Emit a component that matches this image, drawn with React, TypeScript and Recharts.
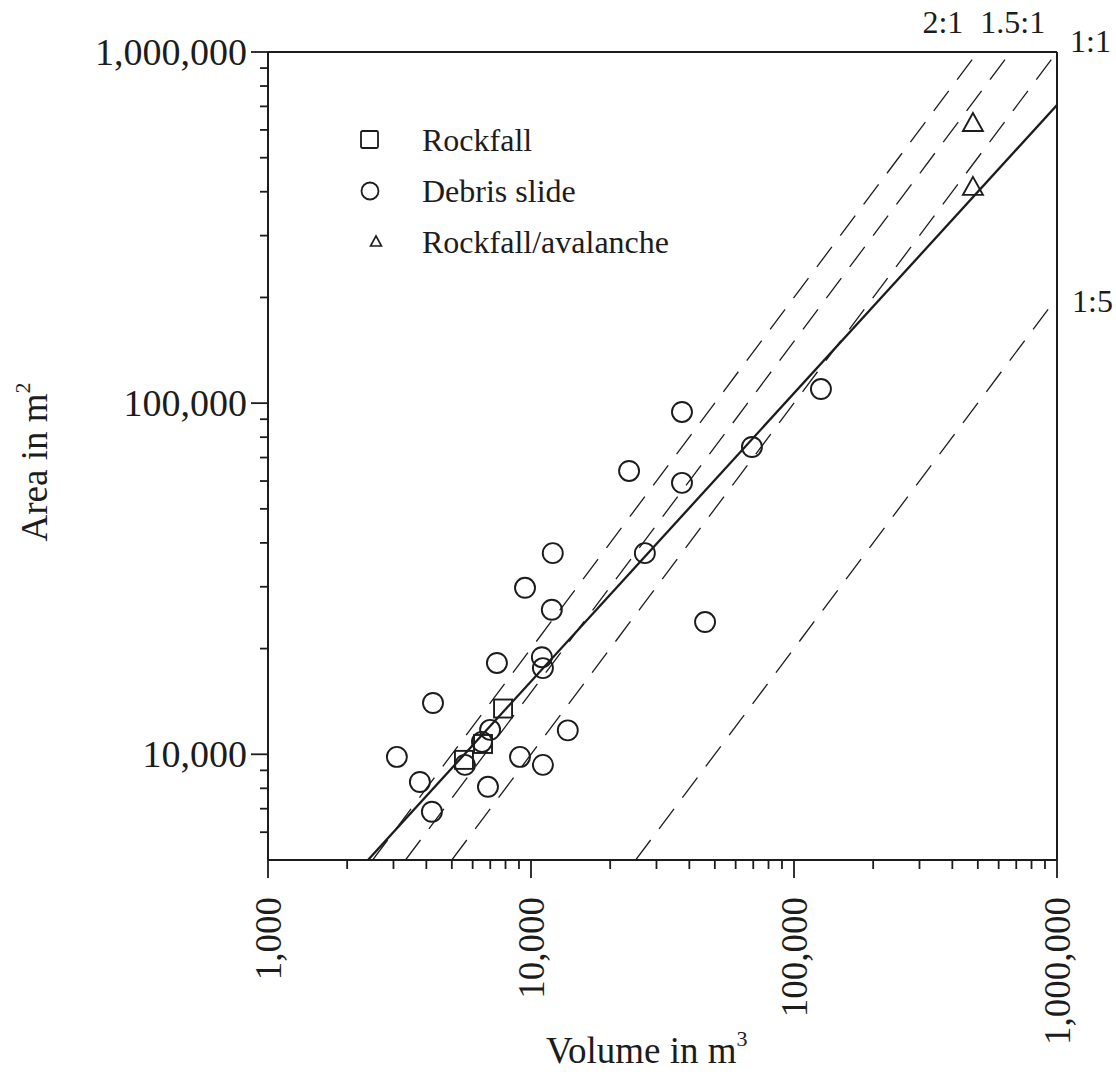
import React from 'react';
import {
  ScatterChart, Scatter, XAxis, YAxis, ReferenceLine, ReferenceDot, Legend,
} from 'recharts';

// ---------- data ----------
const rockfall = [
  { v: 7830, a: 13500 },
  { v: 6570, a: 10700 },
  { v: 5560, a: 9640 },
];

const debrisSlide = [
  { v: 3090, a: 9830 },
  { v: 3780, a: 8340 },
  { v: 4200, a: 6860 },
  { v: 4240, a: 14000 },
  { v: 5610, a: 9330 },
  { v: 6510, a: 10850 },
  { v: 6990, a: 11740 },
  { v: 6860, a: 8080 },
  { v: 7420, a: 18200 },
  { v: 9080, a: 9830 },
  { v: 11100, a: 9330 },
  { v: 11000, a: 18900 },
  { v: 11100, a: 17600 },
  { v: 12000, a: 25800 },
  { v: 9490, a: 29800 },
  { v: 12100, a: 37400 },
  { v: 13800, a: 11700 },
  { v: 23600, a: 64100 },
  { v: 27100, a: 37400 },
  { v: 37500, a: 94400 },
  { v: 37500, a: 59300 },
  { v: 45900, a: 23800 },
  { v: 69200, a: 75000 },
  { v: 126600, a: 109700 },
];

const avalanche = [
  { v: 479000, a: 628000 },
  { v: 479000, a: 413000 },
];

// regression line end points [volume, area]
const fitLine = [
  { v: 2400, a: 5000 },
  { v: 1000000, a: 706000 },
];

// area:volume ratio lines, end points [volume, area]
const ratioLines = [
  { name: '2:1', from: { v: 2500, a: 5000 }, to: { v: 500000, a: 1000000 } },
  { name: '1.5:1', from: { v: 3333, a: 5000 }, to: { v: 666666, a: 1000000 } },
  { name: '1:1', from: { v: 5000, a: 5000 }, to: { v: 1000000, a: 1000000 } },
  { name: '1:5', from: { v: 25000, a: 5000 }, to: { v: 1000000, a: 200000 } },
];

const xMajorTicks = [1000, 10000, 100000, 1000000];
const xTicks = [
  1000, 2000, 3000, 4000, 5000, 6000, 7000, 8000, 9000,
  10000, 20000, 30000, 40000, 50000, 60000, 70000, 80000, 90000,
  100000, 200000, 300000, 400000, 500000, 600000, 700000, 800000, 900000,
  1000000,
];
const yMajorTicks = [10000, 100000, 1000000];
const yTicks = [
  6000, 7000, 8000, 9000,
  10000, 20000, 30000, 40000, 50000, 60000, 70000, 80000, 90000,
  100000, 200000, 300000, 400000, 500000, 600000, 700000, 800000, 900000,
  1000000,
];

const xDomain = [1000, 1000000];
const yDomain = [5000, 1000000];

// ---------- style ----------
const INK = '#1c1c1c';
const FONT = '"Liberation Serif", "Times New Roman", serif';
const fmt = (n: number) => n.toLocaleString('en-US');

const XTick = (props: any) => {
  const { x, y, payload } = props;
  const major = xMajorTicks.includes(payload.value);
  const ty = y + 37;
  return (
    <g>
      <line x1={x} x2={x} y1={y} y2={y + (major ? 18 : 9)} stroke={INK} strokeWidth={1.8} />
      {major && (
        <text
          x={x}
          y={ty}
          dy="0.34em"
          textAnchor="end"
          transform={`rotate(-90 ${x} ${ty})`}
          fontFamily={FONT}
          fontSize={37}
          fill={INK}
        >
          {fmt(payload.value)}
        </text>
      )}
    </g>
  );
};

const YTick = (props: any) => {
  const { x, y, payload } = props;
  const major = yMajorTicks.includes(payload.value);
  return (
    <g>
      <line x1={x} x2={x - (major ? 17 : 8)} y1={y} y2={y} stroke={INK} strokeWidth={1.8} />
      {major && (
        <text
          x={x - 21}
          y={y}
          dy="0.34em"
          textAnchor="end"
          fontFamily={FONT}
          fontSize={38}
          fill={INK}
        >
          {fmt(payload.value)}
        </text>
      )}
    </g>
  );
};

const CircleShape = (p: any) => (
  <circle cx={p.cx} cy={p.cy} r={10} fill="none" stroke={INK} strokeWidth={1.9} />
);
const SquareShape = (p: any) => (
  <rect x={p.cx - 9} y={p.cy - 9} width={18} height={18} fill="none" stroke={INK} strokeWidth={1.9} />
);
const TriangleShape = (p: any) => (
  <path
    d={`M${p.cx},${p.cy - 10} L${p.cx + 10},${p.cy + 8} L${p.cx - 10},${p.cy + 8} Z`}
    fill="none"
    stroke={INK}
    strokeWidth={1.9}
  />
);

const labelAt = (text: string, dx: number, dy: number, anchor: string) => (props: any) => {
  const vb = props.viewBox || { x: 0, y: 0 };
  return (
    <text
      x={vb.x + dx}
      y={vb.y + dy}
      textAnchor={anchor}
      fontFamily={FONT}
      fontSize={32}
      fill={INK}
    >
      {text}
    </text>
  );
};

const ratioLabelPos: Record<string, [number, number, string]> = {
  '2:1': [-35, -19, 'middle'],
  '1.5:1': [2, -19, 'middle'],
  '1:1': [13, 0, 'start'],
  '1:5': [15, 15, 'start'],
};

const LegendContent = () => {
  const rows = [
    {
      name: 'Rockfall',
      icon: <rect x={6} y={6} width={17} height={17} fill="none" stroke={INK} strokeWidth={1.8} rx={1.5} />,
    },
    {
      name: 'Debris slide',
      icon: <circle cx={15} cy={15} r={8.5} fill="none" stroke={INK} strokeWidth={1.8} />,
    },
    {
      name: 'Rockfall/avalanche',
      icon: <path d="M21,9 L26.5,19 L15.5,19 Z" fill="none" stroke={INK} strokeWidth={1.6} />,
    },
  ];
  return (
    <div style={{ fontFamily: FONT, color: INK }}>
      {rows.map((r) => (
        <div key={r.name} style={{ display: 'flex', alignItems: 'center', height: 51 }}>
          <svg width={30} height={30} style={{ display: 'block' }}>{r.icon}</svg>
          <span style={{ marginLeft: 37, fontSize: 32, lineHeight: 1 }}>{r.name}</span>
        </div>
      ))}
    </div>
  );
};

const XLabel = (props: any) => {
  const vb = props.viewBox;
  return (
    <text x={vb.x + 278} y={vb.y + 203} fontFamily={FONT} fontSize={37} fill={INK}>
      <tspan>Volume in m</tspan>
      <tspan dy={-17} fontSize={22}>3</tspan>
    </text>
  );
};

const YLabel = () => {
  const x = 47;
  const y = 462;
  return (
    <text
      x={x}
      y={y}
      textAnchor="middle"
      transform={`rotate(-90 ${x} ${y})`}
      fontFamily={FONT}
      fontSize={37}
      fill={INK}
    >
      <tspan>Area in m</tspan>
      <tspan dy={-17} fontSize={22}>2</tspan>
    </text>
  );
};

export default function App() {
  return (
    <div style={{ width: 1116, height: 1088, background: '#fff' }}>
      <style>{'body{margin:0;background:#fff;}'}</style>
      <ScatterChart
        width={1116}
        height={1088}
        margin={{ top: 52, right: 59, bottom: 28, left: 88 }}
      >
        <XAxis
          type="number"
          dataKey="v"
          scale="log"
          domain={xDomain}
          allowDataOverflow
          ticks={xTicks}
          interval={0}
          tick={<XTick />}
          tickLine={false}
          tickSize={0}
          tickMargin={0}
          height={200}
          axisLine={{ stroke: INK, strokeWidth: 2 }}
          label={<XLabel />}
        />
        <YAxis
          type="number"
          dataKey="a"
          scale="log"
          domain={yDomain}
          allowDataOverflow
          ticks={yTicks}
          interval={0}
          tick={<YTick />}
          tickLine={false}
          tickSize={0}
          tickMargin={0}
          width={180}
          axisLine={{ stroke: INK, strokeWidth: 2 }}
          label={<YLabel />}
        />
        <ReferenceLine y={1000000} stroke={INK} strokeWidth={2} ifOverflow="visible" />
        <ReferenceLine x={1000000} stroke={INK} strokeWidth={2} ifOverflow="visible" />

        {ratioLines.map((r) => (
          <ReferenceLine
            key={r.name}
            segment={[{ x: r.from.v, y: r.from.a }, { x: r.to.v, y: r.to.a }]}
            stroke={INK}
            strokeWidth={1.3}
            strokeDasharray="25 14"
            ifOverflow="hidden"
          />
        ))}
        {ratioLines.map((r) => {
          const [dx, dy, anchor] = ratioLabelPos[r.name];
          return (
            <ReferenceDot
              key={'lbl' + r.name}
              x={r.to.v}
              y={r.to.a}
              r={0}
              fill="none"
              stroke="none"
              ifOverflow="visible"
              label={labelAt(r.name, dx, dy, anchor)}
            />
          );
        })}
        <ReferenceLine
          segment={[{ x: fitLine[0].v, y: fitLine[0].a }, { x: fitLine[1].v, y: fitLine[1].a }]}
          stroke={INK}
          strokeWidth={2.3}
          ifOverflow="hidden"
        />

        <Scatter name="Rockfall" data={rockfall} shape={<SquareShape />} isAnimationActive={false} />
        <Scatter name="Debris slide" data={debrisSlide} shape={<CircleShape />} isAnimationActive={false} />
        <Scatter name="Rockfall/avalanche" data={avalanche} shape={<TriangleShape />} isAnimationActive={false} />

        <Legend
          layout="horizontal"
          verticalAlign="middle"
          align="center"
          content={<LegendContent />}
          wrapperStyle={{ position: 'absolute', left: 355, top: 114, width: 360, height: 160 }}
        />
      </ScatterChart>
    </div>
  );
}
